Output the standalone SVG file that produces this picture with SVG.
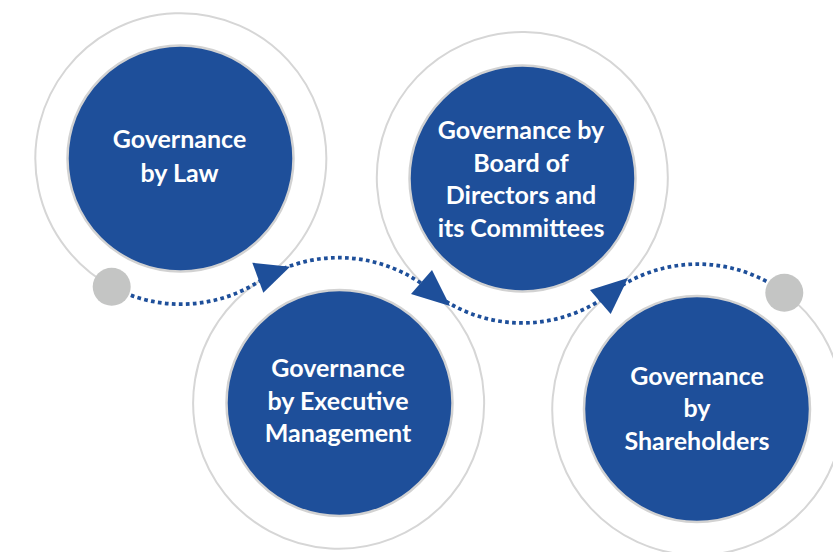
<svg xmlns="http://www.w3.org/2000/svg" width="833" height="552" viewBox="0 0 833 552">
<style>
.ring{fill:none;stroke:#d6d6d6;stroke-width:2}
.core{fill:#1e4f9a;stroke:#d2d2d2;stroke-width:2.5}
.lbl{fill:#ffffff;font-family:Lato,"Liberation Sans",sans-serif;font-weight:bold;font-size:25px;text-anchor:middle}
.flow{fill:none;stroke:#1e4f9a;stroke-width:3.7;stroke-dasharray:3.7 3.3}
.head{fill:#1e4f9a}
.dot{fill:#c4c5c4}
</style>
<rect width="833" height="552" fill="#ffffff"/>
<g id="node-law">
<path class="ring" d="M 260 280.75 A 145.5 145.5 0 1 0 111.7 286.7"/>
<circle class="core" cx="180.5" cy="158.5" r="113"/>
<text class="lbl"><tspan x="179.5" y="148">Governance</tspan><tspan x="179.5" y="181.5">by Law</tspan></text>
</g>
<g id="node-board">
<path class="ring" d="M 609.75 293.75 A 145.5 145.5 0 1 0 431 290.75"/>
<circle class="core" cx="522.5" cy="178.5" r="113"/>
<text class="lbl"><tspan x="521" y="138.5">Governance by</tspan><tspan x="521" y="171.5">Board of</tspan><tspan x="521" y="204">Directors and</tspan><tspan x="521" y="236.5">its Committees</tspan></text>
</g>
<g id="node-executive">
<path class="ring" d="M 431 290.75 A 145.5 145.5 0 1 1 260 280.75"/>
<circle class="core" cx="339.5" cy="403" r="113"/>
<text class="lbl"><tspan x="338" y="377">Governance</tspan><tspan x="338" y="409.5">by Executive</tspan><tspan x="338" y="442">Management</tspan></text>
</g>
<g id="node-shareholders">
<path class="ring" d="M 784.3 292.7 A 145.5 145.5 0 1 1 609.75 293.75"/>
<circle class="core" cx="697" cy="409" r="113"/>
<text class="lbl"><tspan x="697" y="385">Governance</tspan><tspan x="697" y="417">by</tspan><tspan x="697" y="449.5">Shareholders</tspan></text>
</g>
<g id="connectors">
<path class="flow" d="M 111.7 286.7 A 145.5 145.5 0 0 0 260 280.75 A 145.5 145.5 0 0 1 431 290.75 A 145.5 145.5 0 0 0 609.75 293.75 A 145.5 145.5 0 0 1 784.3 292.7"/>
<polygon class="head" points="252.3,262.7 290,266.7 263.3,292.7"/>
<polygon class="head" points="432,270 411,294 450,306"/>
<polygon class="head" points="590,290 628,278 610.7,314"/>
<circle class="dot" cx="111.7" cy="286.7" r="19"/>
<circle class="dot" cx="784.3" cy="292.7" r="19"/>
</g>
</svg>
